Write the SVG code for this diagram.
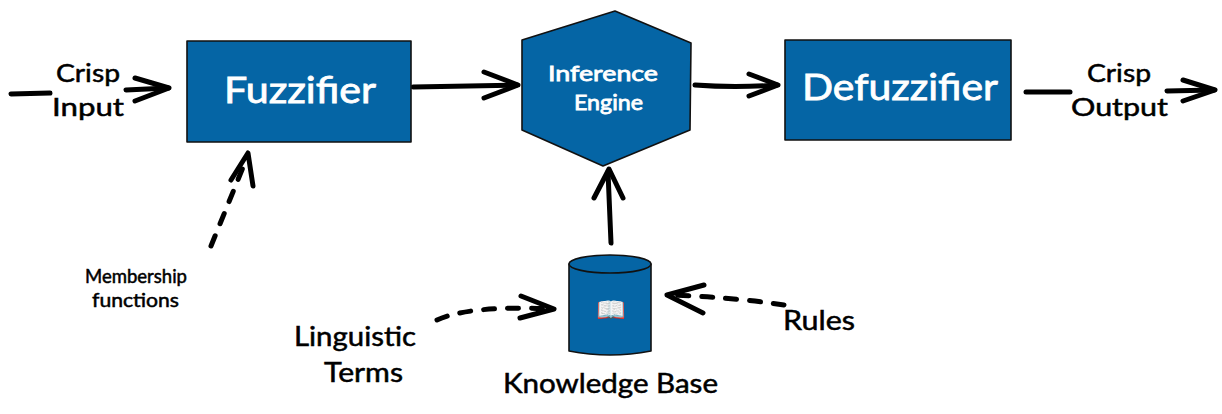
<svg xmlns="http://www.w3.org/2000/svg" width="1222" height="414" viewBox="0 0 1222 414">
<style>
.shape{fill:#0565a5;stroke:#111;stroke-width:1.6;stroke-linejoin:round}
.t{font-family:"Lato","Open Sans",sans-serif;fill:#000;stroke:#000;stroke-width:.5;text-anchor:start}
.w{fill:#fff;stroke:#fff;stroke-width:.8}
.c{fill:none;stroke:#000;stroke-width:5;stroke-linecap:round;stroke-linejoin:round}
.d{stroke-dasharray:11 13}
</style>
<rect width="1222" height="414" fill="#fff"/>
<g id="connectors">
<path class="c" d="M11 94 L50 93"/>
<path class="c" d="M126 90 L168 88"/>
<path class="c" d="M135 78 L169 88 L135 101"/>
<path class="c" d="M413 87 L517 85"/>
<path class="c" d="M484 72 L518 85 L484 98"/>
<path class="c" d="M695 85 Q735 88 777 85"/>
<path class="c" d="M749 74 L778 85 L749 96"/>
<path class="c" d="M1026 92 L1070 92"/>
<path class="c" d="M1167 91 L1214 90"/>
<path class="c" d="M1183 80 L1215 90 L1183 101"/>
<path class="c d" d="M211 246 L246 160"/>
<path class="c" d="M231 180 L248 153 L253 186"/>
<path class="c" d="M611 243 L608 172"/>
<path class="c" d="M594 198 L609 169 L623 198"/>
<path class="c d" d="M437 320 Q470 305 552 309"/>
<path class="c" d="M521 296 L554 309 L520 318"/>
<path class="c d" d="M784 305 Q730 297 670 295"/>
<path class="c" d="M704 285 L667 295 L703 313"/>
</g>
<g id="fuzzifier">
<rect class="shape" x="187" y="41" width="224" height="101"/>
<text class="t w" x="224" y="103" font-size="36" textLength="152" lengthAdjust="spacingAndGlyphs">Fuzzifier</text>
</g>
<g id="inference-engine">
<polygon class="shape" points="522,40 615,11 691,43 690,130 603,166 522,130"/>
<text class="t w" x="548" y="81" font-size="22" textLength="110" lengthAdjust="spacingAndGlyphs">Inference</text>
<text class="t w" x="574" y="110" font-size="22" textLength="69" lengthAdjust="spacingAndGlyphs">Engine</text>
</g>
<g id="defuzzifier">
<rect class="shape" x="785" y="40" width="226" height="100"/>
<text class="t w" x="802" y="100" font-size="36" textLength="196" lengthAdjust="spacingAndGlyphs">Defuzzifier</text>
</g>
<g id="knowledge-base">
<path class="shape" d="M569 264 L569 351 Q610 359 651 351 L651 264 Z"/>
<ellipse class="shape" cx="610" cy="264" rx="41" ry="9"/>
<text x="596" y="318" font-size="24" font-family="'Noto Color Emoji','DejaVu Sans',sans-serif">📖</text>
<text class="t" x="503" y="393" font-size="26" textLength="215" lengthAdjust="spacingAndGlyphs">Knowledge Base</text>
</g>
<g id="labels">
<text class="t" x="56" y="82" font-size="25" textLength="64" lengthAdjust="spacingAndGlyphs">Crisp</text>
<text class="t" x="52" y="116" font-size="25" textLength="72" lengthAdjust="spacingAndGlyphs">Input</text>
<text class="t" x="1087" y="82" font-size="25" textLength="64" lengthAdjust="spacingAndGlyphs">Crisp</text>
<text class="t" x="1071" y="116" font-size="25" textLength="97" lengthAdjust="spacingAndGlyphs">Output</text>
<text class="t" x="85" y="283" font-size="19" textLength="102" lengthAdjust="spacingAndGlyphs">Membership</text>
<text class="t" x="92" y="307" font-size="19" textLength="87" lengthAdjust="spacingAndGlyphs">functions</text>
<text class="t" x="294" y="346" font-size="26" textLength="122" lengthAdjust="spacingAndGlyphs">Linguistic</text>
<text class="t" x="324" y="382" font-size="26" textLength="79" lengthAdjust="spacingAndGlyphs">Terms</text>
<text class="t" x="783" y="330" font-size="26" textLength="72" lengthAdjust="spacingAndGlyphs">Rules</text>
</g>
</svg>
